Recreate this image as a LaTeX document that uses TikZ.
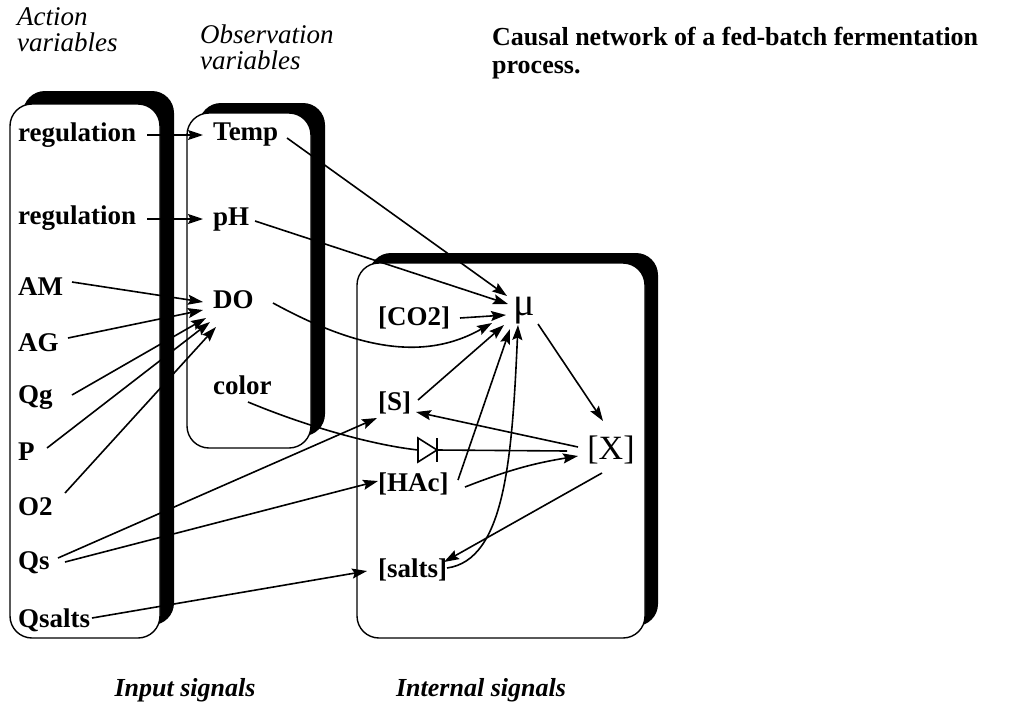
\documentclass[tikz,border=0pt]{standalone}
\usepackage{fontspec}
\setmainfont{Liberation Serif}
\usetikzlibrary{arrows.meta,calc}
\begin{document}
\begin{tikzpicture}[x=1pt,y=-1pt,
  lbl/.style={font=\fontsize{27}{29}\selectfont\bfseries, inner sep=2pt, anchor=west},
  big/.style={font=\fontsize{34}{36}\selectfont, inner sep=0pt},
  hdr/.style={font=\fontsize{27}{26}\selectfont\itshape, align=left, anchor=west, inner sep=0pt},
  ttl/.style={font=\fontsize{26}{28}\selectfont\bfseries, align=left, anchor=west, inner sep=0pt},
  foot/.style={font=\fontsize{26}{28}\selectfont\bfseries\itshape, inner sep=0pt},
  conn/.style={line width=1.6pt, -{Stealth[length=15pt,width=10pt,inset=2.5pt]}},
  plain/.style={line width=1.6pt},
  shadowbox/.style={fill=black, rounded corners=22pt},
  panel/.style={fill=white, draw=black, line width=1.4pt, rounded corners=22pt}]
\useasboundingbox (0,0) rectangle (1009,715);

% panels with shadows
\fill[shadowbox] (23,91) rectangle (174,625);
\filldraw[panel] (10,104) rectangle (160,638);
\fill[shadowbox] (199,103) rectangle (325,436);
\filldraw[panel] (187,113) rectangle (311,448);
\fill[shadowbox] (369,253) rectangle (658,626);
\filldraw[panel] (357,263) rectangle (645,638);

% headers
\node[hdr] (acth) at (17,30) {Action\\variables};
\node[hdr] (obsh) at (200,47) {Observation\\variables};
\node[ttl] (title) at (492,53) {Causal network of a fed-batch fermentation\\process.};
\node[foot] (inp) at (185,690) {Input signals};
\node[foot] (intl) at (481,690) {Internal signals};

% action variables
\node[lbl] (reg1) at (16,135) {regulation};
\node[lbl] (reg2) at (16,218) {regulation};
\node[lbl] (AM) at (16,287) {AM};
\node[lbl] (AG) at (16,343) {AG};
\node[lbl] (Qg) at (16,398) {Qg};
\node[lbl] (P) at (16,452) {P};
\node[lbl] (O2) at (16,507) {O2};
\node[lbl] (Qs) at (16,563) {Qs};
\node[lbl] (Qsalts) at (16,620) {Qsalts};

% observation variables
\node[lbl] (Temp) at (211,135) {Temp};
\node[lbl] (pH) at (211,220) {pH};
\node[lbl] (DO) at (211,300) {DO};
\node[lbl] (color) at (211,385) {color};

% internal signals
\node[lbl] (CO2) at (376,318) {[CO2]};
\node[lbl] (S) at (376,403) {[S]};
\node[lbl] (HAc) at (376,484) {[HAc]};
\node[lbl] (salts) at (376,570) {[salts]};
\node[big, font=\fontsize{40}{40}\selectfont] (mu) at (524,311) {μ};
\node[big] (X) at (611,450) {[X]};
\coordinate (dio) at (418,450);

% diode symbol
\draw[plain, line join=miter] (dio) ++(0,-12) -- ++(0,24) -- ++(19,-12) -- cycle;
\draw[plain] ($(dio)+(19,-12)$) -- ($(dio)+(19,12)$);

% connectors: action -> observation
\draw[conn] ($(reg1.west)+(131,0)$) -- ($(Temp.west)+(-8,0)$);
\draw[conn] ($(reg2.west)+(131,1)$) -- ($(pH.west)+(-8,-1)$);
\draw[conn] ($(AM.west)+(56,-5)$) -- ($(DO.west)+(-8,2)$);
\draw[conn] ($(AG.west)+(52,-5)$) -- ($(DO.west)+(-8,10)$);
\draw[conn] ($(Qg.west)+(56,-3)$) -- ($(DO.west)+(-5,18)$);
\draw[conn] ($(P.west)+(31,-4)$) -- ($(DO.west)+(-1,22)$);
\draw[conn] ($(O2.west)+(49,-14)$) -- ($(DO.west)+(5,27)$);

% action -> internal
\draw[conn] ($(Qs.west)+(42,-5)$) -- ($(S.west)+(1,15)$);
\draw[conn] ($(Qs.west)+(49,-1)$) -- ($(HAc.west)+(2,-3)$);
\draw[conn] ($(Qsalts.west)+(76,-2)$) -- ($(salts.west)+(-9,1)$);

% observation -> internal
\draw[conn] ($(Temp.west)+(76,3)$) -- ($(mu)+(-17,-15)$);
\draw[conn] ($(pH.west)+(44,1)$) -- ($(mu)+(-16,-7)$);
\draw[conn] ($(DO.west)+(62,3)$) .. controls +(77,42) and +(-72,41) .. ($(mu)+(-32,12)$);
\draw[plain] ($(color.west)+(37,17)$) .. controls +(60,25) and +(-45,-5) .. (dio);
\draw[plain] ($(dio)+(19,0)$) -- ($(X)+(-44,1)$);

% internal
\draw[conn] ($(CO2.west)+(84,0)$) -- ($(mu)+(-18,4)$);
\draw[conn] ($(S.west)+(42,-3)$) -- ($(mu)+(-20,14)$);
\draw[conn] ($(HAc.west)+(82,-4)$) -- ($(mu)+(-14,18)$);
\draw[conn] ($(salts.west)+(71,-2)$) .. controls +(58,-8) and +(-6,134) .. ($(mu)+(-6,14)$);
\draw[conn] ($(mu)+(14,13)$) -- ($(X)+(-8,-29)$);
\draw[conn] ($(X)+(-33,-3)$) -- ($(S.west)+(40,9)$);
\draw[conn] ($(HAc.west)+(89,3)$) to[bend left=6] ($(X)+(-33,6)$);
\draw[conn] ($(X)+(-9,23)$) -- ($(salts.west)+(68,-8)$);
\end{tikzpicture}
\end{document}
